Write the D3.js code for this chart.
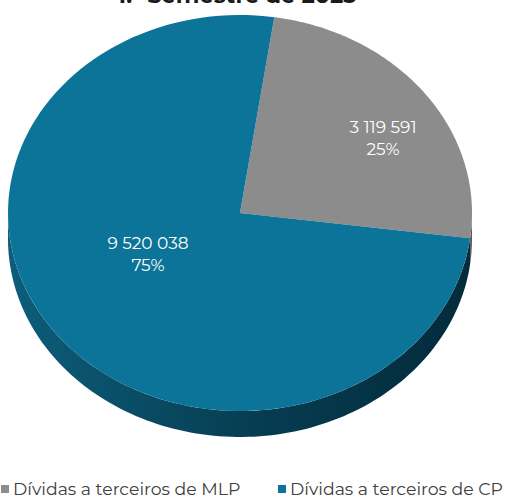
<!DOCTYPE html>
<html>
<head>
<meta charset="utf-8">
<script src="https://cdn.jsdelivr.net/npm/d3@7"></script>
<style>
  html, body { margin: 0; padding: 0; background: #fff; }
  svg { display: block; }
</style>
</head>
<body>
<svg id="chart" width="505" height="498"></svg>
<script>
// Chart data
const title = "1.º Semestre de 2023";
const categories = ["Dívidas a terceiros de MLP", "Dívidas a terceiros de CP"];
const values = [3119591, 9520038];
const colors = ["#8c8c8c", "#0d7499"];

const W = 505, H = 498;
const cx = 240, cy = 213, rx = 232, ry = 198, depth = 26;
const startOffset = 8.5 * Math.PI / 180;

const svg = d3.select("#chart");
const defs = svg.append("defs");

const sideGrad = defs.append("linearGradient")
  .attr("id", "sideGrad").attr("x1", "0").attr("x2", "1").attr("y1", "0").attr("y2", "0");
sideGrad.append("stop").attr("offset", "0%").attr("stop-color", "#0d5d7a");
sideGrad.append("stop").attr("offset", "55%").attr("stop-color", "#063c50");
sideGrad.append("stop").attr("offset", "100%").attr("stop-color", "#032b3b");

const total = d3.sum(values);
const pie = d3.pie().sort(null)
  .startAngle(startOffset).endAngle(startOffset + 2 * Math.PI);
const arcs = pie(values);

// point on the ellipse for an angle measured clockwise from 12 o'clock
const pt = (t, dy = 0) => [cx + rx * Math.sin(t), cy - ry * Math.cos(t) + dy];
const line = d3.line();
const steps = (a, b) => d3.range(0, 121).map(i => a + (b - a) * i / 120);

// side walls (only the front half, angles between PI/2 and 3PI/2)
arcs.forEach((d, i) => {
  const a = Math.max(d.startAngle, Math.PI / 2);
  const b = Math.min(d.endAngle, 3 * Math.PI / 2);
  if (b <= a) return;
  const top = steps(a, b).map(t => pt(t));
  const bottom = steps(b, a).map(t => pt(t, depth));
  svg.append("path")
    .attr("d", line(top.concat(bottom)) + "Z")
    .attr("fill", i === 1 ? "url(#sideGrad)" : "#5a5a5a");
});

// top faces
arcs.forEach((d, i) => {
  const pts = [[cx, cy]].concat(steps(d.startAngle, d.endAngle).map(t => pt(t)));
  svg.append("path")
    .attr("d", line(pts) + "Z")
    .attr("fill", colors[i]);
});

// value labels
const fmt = v => d3.format(",")(v).replace(/,/g, " ");
const labelPos = [[383, 127], [148, 243]];
arcs.forEach((d, i) => {
  const g = svg.append("g")
    .attr("font-family", "Montserrat, 'Noto Sans', sans-serif")
    .attr("font-size", 17)
    .attr("fill", "#ffffff")
    .attr("text-anchor", "middle");
  g.append("text").attr("x", labelPos[i][0]).attr("y", labelPos[i][1] + 6).text(fmt(values[i]));
  g.append("text").attr("x", labelPos[i][0]).attr("y", labelPos[i][1] + 28)
    .text(Math.round(values[i] / total * 100) + "%");
});

// title
svg.append("text")
  .attr("x", 237).attr("y", 3)
  .attr("text-anchor", "middle")
  .attr("font-family", "Montserrat, 'Noto Sans', sans-serif")
  .attr("font-weight", "bold")
  .attr("font-size", 22.5)
  .attr("fill", "#1a1a1a")
  .text(title);

// legend
const legendX = [1, 278];
categories.forEach((c, i) => {
  svg.append("rect")
    .attr("x", legendX[i]).attr("y", 485)
    .attr("width", 8).attr("height", 8)
    .attr("fill", colors[i]);
  svg.append("text")
    .attr("x", legendX[i] + 12).attr("y", 495)
    .attr("font-family", "Montserrat, 'Noto Sans', sans-serif")
    .attr("font-size", 17.3)
    .attr("fill", "#404040")
    .text(c);
});
</script>
</body>
</html>
